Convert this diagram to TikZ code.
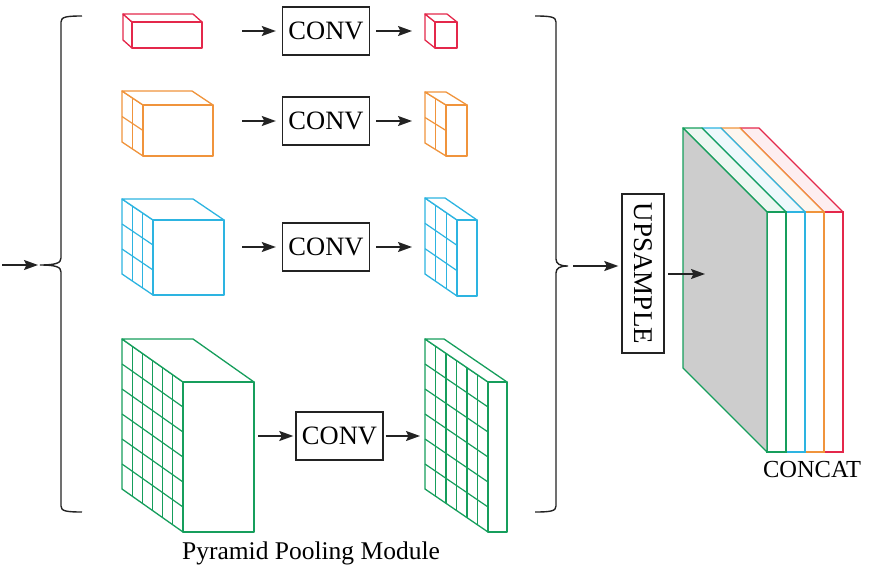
\documentclass[tikz,border=0pt]{standalone}
\usepackage{fontspec}
\setmainfont{Liberation Serif}
\usetikzlibrary{arrows.meta,calc}
\definecolor{cred}{RGB}{228,40,75}
\definecolor{corange}{RGB}{240,148,60}
\definecolor{cblue}{RGB}{45,180,225}
\definecolor{cgreen}{RGB}{22,158,92}
\definecolor{cgrey}{RGB}{205,205,205}
\definecolor{cink}{RGB}{35,35,35}
\newcommand\cuboid[8]{%
  \begin{scope}[draw=#1, line width=1.3pt, line join=round]
    \filldraw[fill=white] (#2,#3) -- ++(#4,#5) -- ++(0,#7) -- ++(-#4,-#5) -- cycle;
    \filldraw[fill=white] (#2,#3) -- ++(#6,0) -- ++(#4,#5) -- ++(-#6,0) -- cycle;
    \filldraw[fill=white] (#2+#4,#3+#5) rectangle ++(#6,#7);
    \ifnum#8>1
      \pgfmathtruncatemacro\cubn{#8-1}
      \foreach \k in {1,...,\cubn}{
        \draw[line width=1.2pt] (#2+\k*#4/#8,#3+\k*#5/#8) -- ++(0,#7);
        \draw[line width=1.2pt] (#2,#3+\k*#7/#8) -- ++(#4,#5);
      }
    \fi
  \end{scope}}
\tikzset{
  convbox/.style={draw=cink, line width=1.4pt, minimum width=87pt, minimum height=48pt, inner sep=0pt, font=\fontsize{26.5}{28}\selectfont},
  arr/.style={draw=cink, line width=1.5pt, -{Stealth[length=14pt,width=10pt,inset=2.5pt]}},
  brace/.style={draw=cink, line width=1.4pt},
}
\begin{document}
\begin{tikzpicture}[x=1pt,y=-1pt]
\useasboundingbox (0,0) rectangle (878,586);

% braces
\draw[brace] (82,16) .. controls (66,16) and (61,17) .. (61,22) -- (61,258)
  .. controls (61,263) and (56,265) .. (40,265)
  .. controls (56,265) and (61,267) .. (61,272) -- (61,506)
  .. controls (61,511) and (66,512) .. (82,512);
\draw[brace] (535,16) .. controls (551,16) and (556,17) .. (556,22) -- (556,259)
  .. controls (556,264) and (560,266) .. (568,266)
  .. controls (560,266) and (556,268) .. (556,273) -- (556,506)
  .. controls (556,511) and (551,512) .. (535,512);

% input arrow
\coordinate (in0) at (2,265);
\coordinate (in1) at (38,265);
\draw[arr] (in0) -- (in1);

% row 1
\cuboid{cred}{123}{14}{9}{8}{70}{26}{1}
\node[convbox] (c1) at (326,31) {CONV};
\coordinate (a1s) at (242,31);
\coordinate (b1e) at (412,31);
\draw[arr, shorten >=6pt] (a1s) -- (c1.west);
\draw[arr, shorten <=6pt] (c1.east) -- (b1e);
\cuboid{cred}{425}{14}{10}{8}{22}{26}{1}

% row 2
\cuboid{corange}{122}{91}{21}{14}{70}{51}{2}
\node[convbox] (c2) at (326,121) {CONV};
\coordinate (a2s) at (242,121);
\coordinate (b2e) at (412,121);
\draw[arr, shorten >=6pt] (a2s) -- (c2.west);
\draw[arr, shorten <=6pt] (c2.east) -- (b2e);
\cuboid{corange}{425}{92}{21}{13}{21}{51}{2}

% row 3
\cuboid{cblue}{122}{199}{31}{21}{71}{75}{3}
\node[convbox] (c3) at (326,247) {CONV};
\coordinate (a3s) at (242,247);
\coordinate (b3e) at (412,247);
\draw[arr, shorten >=6pt] (a3s) -- (c3.west);
\draw[arr, shorten <=6pt] (c3.east) -- (b3e);
\cuboid{cblue}{425}{198}{32}{22}{20}{76}{3}

% row 4
\cuboid{cgreen}{122}{339}{61}{43}{71}{150}{6}
\node[convbox] (c4) at (339.5,436) {CONV};
\coordinate (a4s) at (258,436);
\coordinate (b4e) at (420,436);
\draw[arr, shorten >=2pt] (a4s) -- (c4.west);
\draw[arr, shorten <=2pt] (c4.east) -- (b4e);
\cuboid{cgreen}{425}{339}{63}{43}{19}{150}{6}

\node[font=\fontsize{25.5}{28}\selectfont] (ppm) at (311,553) {Pyramid Pooling Module};

% upsample
\node[draw=cink, line width=1.4pt, rotate=-90, minimum width=159pt, minimum height=42pt, inner sep=0pt, font=\fontsize{27}{29}\selectfont] (up) at (643,273.5) {UPSAMPLE};
\coordinate (rb) at (573,266);
\draw[arr, shorten >=3pt] (rb) -- (rb -| up.south);

% concat stack
\foreach \i/\c in {3/cred,2/corange,1/cblue,0/cgreen}{
  \pgfmathsetmacro\xx{683+19*\i}
  \filldraw[draw=\c, fill=\c!8, line width=1.4pt, line join=round] (\xx,128) -- ++(19,0) -- ++(84,84) -- ++(-19,0) -- cycle;
  \filldraw[draw=\c, fill=white, line width=1.4pt] (\xx+84,212) rectangle ++(19,240);
}
\filldraw[draw=cgreen, fill=cgrey, line width=1.4pt, line join=round] (683,128) -- (767,212) -- (767,452) -- (683,368) -- cycle;
\coordinate (u0) at (668,274);
\coordinate (u1) at (705,274);
\draw[arr] (u0) -- (u1);

\node[font=\fontsize{24.5}{27}\selectfont] (cc) at (812,470) {CONCAT};
\end{tikzpicture}
\end{document}
